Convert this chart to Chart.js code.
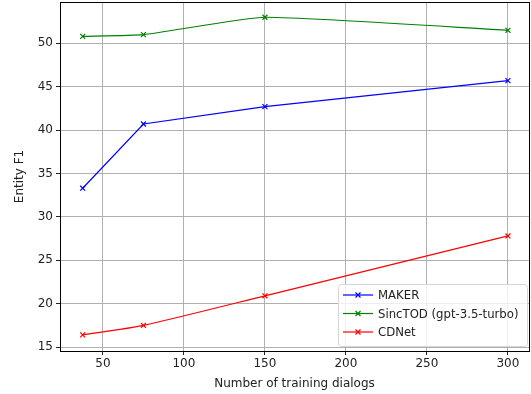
<!DOCTYPE html>
<html>
<head>
<meta charset="utf-8">
<script src="https://cdn.jsdelivr.net/npm/chart.js@4/dist/chart.umd.min.js"></script>
<style>
  html, body { margin: 0; padding: 0; background: #fff; }
  #wrap { width: 531px; height: 394px; }
</style>
</head>
<body>
<div id="wrap"><canvas id="chart" width="531" height="394"></canvas></div>
<script>
const dialogs = [37.5, 75, 150, 300];
const makerF1 = [33.3, 40.7, 42.7, 45.7];
const sincTodF1 = [50.8, 51.0, 53.0, 51.5];
const cdNetF1 = [16.4, 17.5, 20.9, 27.8];
const xTicks = [50, 100, 150, 200, 250, 300];
const yTicks = [15, 20, 25, 30, 35, 40, 45, 50];

const FONT = "'DejaVu Sans', sans-serif";

const series = [
    { label: 'MAKER', values: makerF1, color: '#0000ff', tension: 0 },
    { label: 'SincTOD (gpt-3.5-turbo)', values: sincTodF1, color: '#008000', tension: 0.15 },
    { label: 'CDNet', values: cdNetF1, color: '#ff0000', tension: 0.25 }
];

const datasets = series.map(s => ({
    label: s.label,
    data: dialogs.map((x, i) => ({ x: x, y: s.values[i] })),
    borderColor: s.color,
    backgroundColor: s.color,
    borderWidth: 1.2,
    tension: s.tension,
    pointStyle: 'crossRot',
    pointRadius: 3.5,
    pointBorderWidth: 1.2,
    fill: false
}));

// black frame round the plot area
const framePlugin = {
    id: 'frame',
    afterDatasetsDraw(chart) {
        const { ctx, chartArea: a } = chart;
        ctx.save();
        ctx.strokeStyle = '#000';
        ctx.lineWidth = 1;
        ctx.strokeRect(a.left + 0.5, a.top + 0.5, a.right - a.left, a.bottom - a.top);
        ctx.restore();
    }
};

// matplotlib-like legend in the lower right corner
const legendPlugin = {
    id: 'mplLegend',
    afterDraw(chart) {
        const { ctx, chartArea: a } = chart;
        const w = 189, h = 62;
        const x0 = a.right - w - 2, y0 = a.bottom - h - 5;
        ctx.save();
        ctx.fillStyle = 'rgba(255,255,255,0.8)';
        ctx.strokeStyle = '#d6d6d6';
        ctx.lineWidth = 1;
        ctx.beginPath();
        ctx.roundRect(x0 + 0.5, y0 + 0.5, w, h, 3);
        ctx.fill();
        ctx.stroke();
        ctx.font = '11.7px ' + FONT;
        ctx.textBaseline = 'middle';
        chart.data.datasets.forEach((ds, i) => {
            const cy = y0 + 11 + i * 18.5;
            ctx.strokeStyle = ds.borderColor;
            ctx.lineWidth = 1.2;
            ctx.beginPath();
            ctx.moveTo(x0 + 5, cy);
            ctx.lineTo(x0 + 35, cy);
            ctx.stroke();
            const m = 2.5;
            ctx.beginPath();
            ctx.moveTo(x0 + 20 - m, cy - m); ctx.lineTo(x0 + 20 + m, cy + m);
            ctx.moveTo(x0 + 20 - m, cy + m); ctx.lineTo(x0 + 20 + m, cy - m);
            ctx.stroke();
            ctx.fillStyle = '#222';
            ctx.fillText(ds.label, x0 + 40, cy + 1);
        });
        ctx.restore();
    }
};

new Chart(document.getElementById('chart'), {
    type: 'line',
    data: { datasets: datasets },
    options: {
        responsive: false,
        animation: false,
        layout: { autoPadding: false, padding: { top: 2, right: 2, left: 0, bottom: 0 } },
        plugins: { legend: { display: false }, tooltip: { enabled: false } },
        scales: {
            x: {
                type: 'linear',
                min: 23.5,
                max: 313,
                afterBuildTicks: (scale) => { scale.ticks = xTicks.map(v => ({ value: v })); },
                afterFit: (scale) => {
                    scale.height = 43;
                    scale.paddingLeft = 0;
                    scale.paddingRight = 0;
                },
                grid: { color: '#b0b0b0', lineWidth: 1, tickColor: '#222', tickLength: 4 },
                border: { display: false },
                ticks: { color: '#222', font: { family: FONT, size: 12 }, padding: 2, maxRotation: 0 },
                title: {
                    display: true,
                    text: 'Number of training dialogs',
                    color: '#222',
                    font: { family: FONT, size: 12 },
                    padding: { top: 2, bottom: 3 }
                }
            },
            y: {
                min: 14.54,
                max: 54.76,
                afterBuildTicks: (scale) => { scale.ticks = yTicks.map(v => ({ value: v })); },
                afterFit: (scale) => {
                    scale.width = 60;
                    scale.paddingTop = 0;
                    scale.paddingBottom = 0;
                },
                grid: { color: '#b0b0b0', lineWidth: 1, tickColor: '#222', tickLength: 4 },
                border: { display: false },
                ticks: { color: '#222', font: { family: FONT, size: 12 }, padding: 3 },
                title: {
                    display: true,
                    text: 'Entity F1',
                    color: '#222',
                    font: { family: FONT, size: 12 },
                    padding: { top: 13, bottom: 0 }
                }
            }
        }
    },
    plugins: [framePlugin, legendPlugin]
});
</script>
</body>
</html>
